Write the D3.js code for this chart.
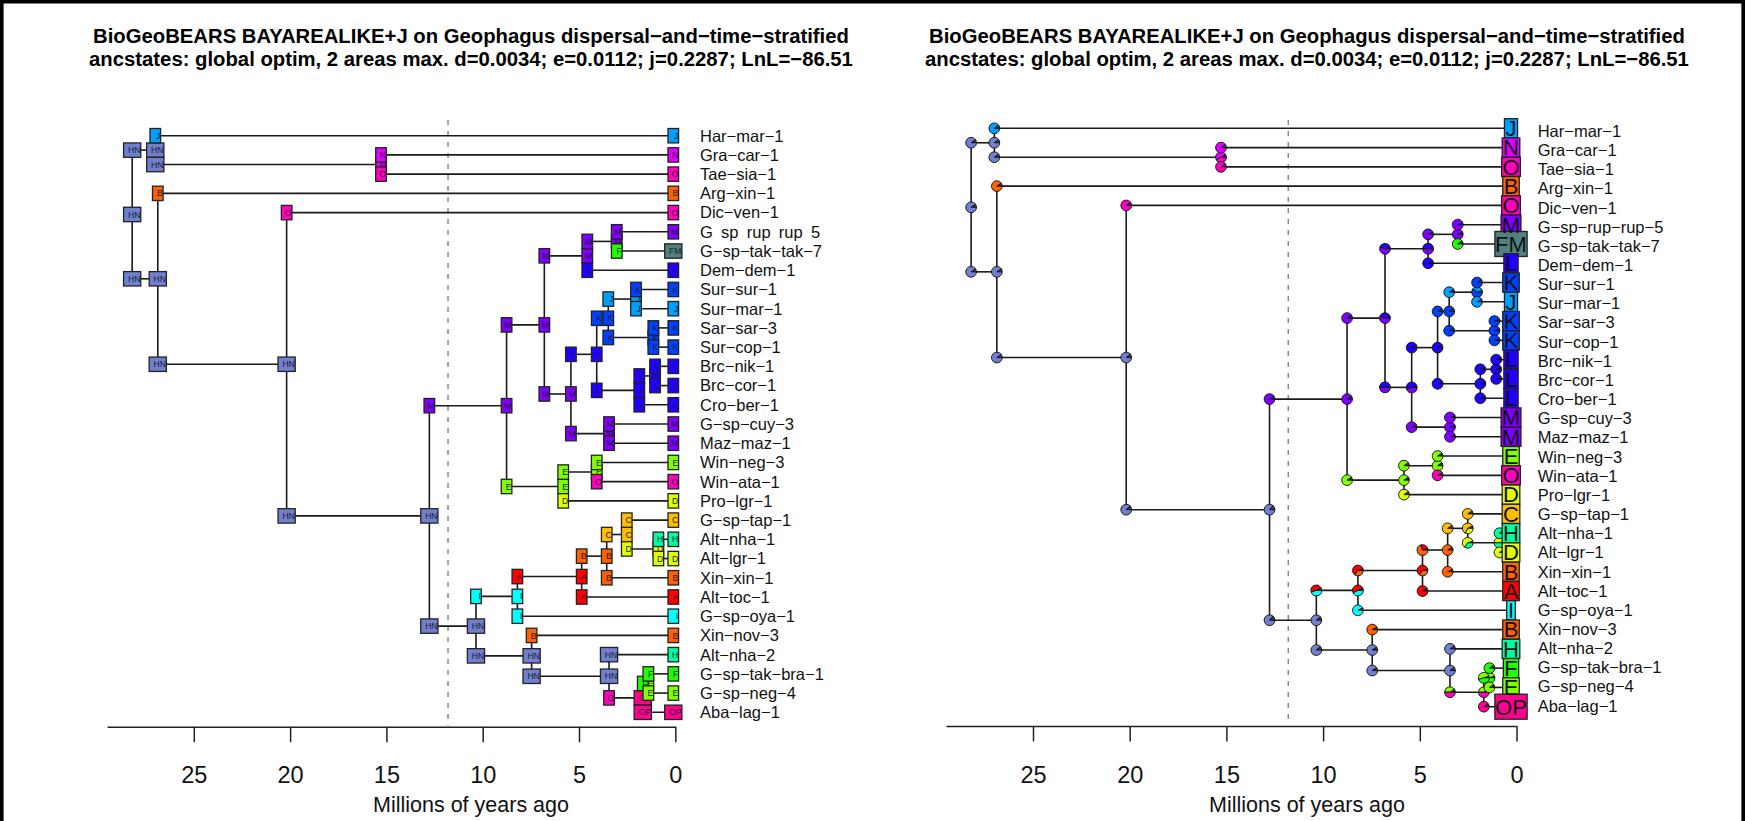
<!DOCTYPE html>
<html lang="en">
<head>
<meta charset="utf-8">
<title>BioGeoBEARS BAYAREALIKE+J on Geophagus</title>
<script src="https://cdnjs.cloudflare.com/ajax/libs/d3/7.8.5/d3.min.js"></script>
<style>
body { margin: 0; background: #fff; }
svg { display: block; font-family: "Liberation Sans", Arial, Helvetica, sans-serif; }
.branch { stroke: #1a1a1a; stroke-width: 1.6; fill: none; stroke-linecap: square; }
.strat { stroke: #8a8a8a; stroke-width: 1.5; stroke-dasharray: 5 6; }
.box { stroke: #222; stroke-width: 1.3; }
.pie path { stroke: #111; stroke-width: 0.9; }
.axis path, .axis line { stroke: #222; stroke-width: 1.5; }
.title { font-weight: bold; font-size: 20.3px; text-anchor: middle; }
</style>
</head>
<body>
<div id="chart"></div>
<script>

// tips, top to bottom
var tipNames = ["Har-mar-1","Gra-car-1","Tae-sia-1","Arg-xin-1","Dic-ven-1","G-sp-rup-rup-5","G-sp-tak-tak-7",
  "Dem-dem-1","Sur-sur-1","Sur-mar-1","Sar-sar-3","Sur-cop-1","Brc-nik-1","Brc-cor-1","Cro-ber-1","G-sp-cuy-3",
  "Maz-maz-1","Win-neg-3","Win-ata-1","Pro-lgr-1","G-sp-tap-1","Alt-nha-1","Alt-lgr-1","Xin-xin-1","Alt-toc-1",
  "G-sp-oya-1","Xin-nov-3","Alt-nha-2","G-sp-tak-bra-1","G-sp-neg-4","Aba-lag-1"];
var tipRanges = ["J","N","O","B","O","M","FM","L","K","J","K","K","L","L","L","M","M","E","O","D","C","H","D",
  "B","A","I","B","H","F","E","OP"];

// internal nodes (age in Ma, two children top/bottom)
var nodeNames = ["root","nA","nGT","nB","nD","nV","nT","nR","nQ","nP","nS","nSL","nKA","nJB","nKC","nLL","nLB",
  "nSM","nU","nUV","nW","nX","nY","nZ","nAA","nAB","nWB","nWC","nWD","nWE"];
var nodeAges = [28.2,27.0,15.28,26.87,20.18,12.77,8.76,6.8,4.57,3.04,5.42,4.08,3.48,2.04,1.14,1.87,1.05,
  3.44,5.82,4.08,10.35,8.2,4.86,3.56,2.52,0.88,7.46,3.44,1.69,1.4];
var nodeKids = [["nA","nB"],["Har-mar-1","nGT"],["Gra-car-1","Tae-sia-1"],["Arg-xin-1","nD"],["Dic-ven-1","nV"],
  ["nT","nW"],["nR","nU"],["nQ","nS"],["nP","Dem-dem-1"],["G-sp-rup-rup-5","G-sp-tak-tak-7"],["nSL","nSM"],
  ["nKA","nLL"],["nJB","nKC"],["Sur-sur-1","Sur-mar-1"],["Sar-sar-3","Sur-cop-1"],["nLB","Cro-ber-1"],
  ["Brc-nik-1","Brc-cor-1"],["G-sp-cuy-3","Maz-maz-1"],["nUV","Pro-lgr-1"],["Win-neg-3","Win-ata-1"],
  ["nX","nWB"],["nY","G-sp-oya-1"],["nZ","Alt-toc-1"],["nAA","Xin-xin-1"],["G-sp-tap-1","nAB"],
  ["Alt-nha-1","Alt-lgr-1"],["Xin-nov-3","nWC"],["Alt-nha-2","nWD"],["nWE","Aba-lag-1"],["G-sp-tak-bra-1","G-sp-neg-4"]];

// most probable ranges (left panel boxes)
var nodeRanges = ["HN","HN","N","HN","HN","HN","M","M","M","M","M","L","K","J","K","L","L","M","E","E","HN",
  "I","A","B","C","D","HN","HN","OP","E"];
var cornerRanges = [["HN","HN"],["J","HN"],["N","O"],["B","HN"],["O","HN"],["M","HN"],["M","E"],["M","M"],
  ["M","L"],["M","F"],["L","M"],["K","L"],["J","K"],["K","J"],["K","K"],["L","L"],["L","L"],["M","M"],["E","D"],
  ["E","O"],["I","HN"],["A","I"],["B","A"],["C","B"],["C","D"],["H","D"],["B","HN"],["HN","O"],["F","OP"],["F","E"]];

// range probabilities (right panel pies)
var nodePies = [[["HN",.9]],[["HN",.9]],[["N",.5],["O",.42]],[["HN",.9]],[["HN",.88]],[["HN",.86]],[["M",.9]],
  [["M",.55],["L",.4]],[["M",.5],["L",.45]],[["M",.92]],[["L",.5],["M",.45]],[["L",.92]],[["K",.9]],
  [["K",.6],["J",.35]],[["K",.95]],[["L",.95]],[["L",.95]],[["M",.95]],[["E",.9]],[["E",.9]],[["HN",.88]],
  [["A",.5],["I",.42]],[["A",.6],["B",.35]],[["B",.9]],[["C",.6],["D",.32]],[["H",.5],["D",.45]],[["HN",.9]],
  [["HN",.88]],[["O",.5],["E",.4]],[["E",.5],["F",.45]]];
var cornerPies = [
  [[["HN",.9]],[["HN",.9]]], [[["J",.9]],[["HN",.9]]], [[["N",.9]],[["O",.9]]], [[["B",.9]],[["HN",.9]]],
  [[["O",.9]],[["HN",.88]]], [[["M",.9]],[["HN",.86]]], [[["M",.9]],[["E",.9]]], [[["M",.55],["L",.4]],[["M",.5],["L",.45]]],
  [[["M",.92]],[["L",.92]]], [[["M",.95]],[["F",.9]]], [[["L",.92]],[["M",.92]]], [[["K",.9]],[["L",.95]]],
  [[["J",.9]],[["K",.92]]], [[["K",.92]],[["J",.92]]], [[["K",.95]],[["K",.95]]], [[["L",.95]],[["L",.95]]],
  [[["L",.95]],[["L",.95]]], [[["M",.95]],[["M",.95]]], [[["E",.9]],[["D",.9]]], [[["E",.9]],[["O",.92]]],
  [[["A",.45],["I",.45]],[["HN",.88]]], [[["A",.6],["B",.35]],[["I",.92]]], [[["B",.7],["A",.25]],[["A",.92]]],
  [[["C",.9]],[["B",.92]]], [[["C",.9]],[["D",.6],["H",.35]]], [[["H",.9]],[["D",.9]]], [[["B",.92]],[["HN",.9]]],
  [[["HN",.9]],[["O",.5],["E",.4]]], [[["E",.5],["F",.45]],[["OP",.9]]], [[["F",.9]],[["E",.9]]]];

var tickValues = [0, 5, 10, 15, 20, 25];
var axisSpan = [0, 29.5];
var stratTime = 11.8;
var titleLines = ["BioGeoBEARS BAYAREALIKE+J on Geophagus dispersal\u2212and\u2212time\u2212stratified",
  "ancstates: global optim, 2 areas max. d=0.0034; e=0.0112; j=0.2287; LnL=\u221286.51"];
var axisTitle = "Millions of years ago";

// ---- colours: rainbow over 16 areas, ranges mixed ----
var areaLetters = "ABCDEFGHIJKLMNOP".split("");
var hue = d3.scaleLinear().domain([0, areaLetters.length]).range([0, 360]);
function areaRGB(a) { return d3.hsl(hue(areaLetters.indexOf(a)), 1, 0.5).rgb(); }
function rangeColor(r) {
  var cs = r.split("").map(areaRGB);
  return d3.rgb(d3.mean(cs, c => c.r), d3.mean(cs, c => c.g), d3.mean(cs, c => c.b)).formatHex();
}
function rangeOrder(r) { return r.length * 100 + areaLetters.indexOf(r[0]) * 10 + (r.length > 1 ? areaLetters.indexOf(r[1]) : 0); }

var kidsOf = {}, ageOf = {}, tipIndex = {};
nodeNames.forEach((n, i) => { kidsOf[n] = nodeKids[i]; ageOf[n] = nodeAges[i]; });
tipNames.forEach((n, i) => { ageOf[n] = 0; tipIndex[n] = i; });

var svg = d3.select("#chart").append("svg").attr("width", 1745).attr("height", 821);

svg.append("path")
  .attr("d", "M1.8,830 V1.8 H1743.2 V830")
  .attr("fill", "none").attr("stroke", "#000").attr("stroke-width", 3.6);

function drawPanel(p) {
  var g = svg.append("g");
  var x = d3.scaleLinear().domain(axisSpan).range([p.x0, p.x0 - axisSpan[1] * p.pxPerMa]);
  var yT = d3.scaleLinear().domain([0, tipNames.length - 1]).range(p.treeY);
  var yL = d3.scaleLinear().domain([0, tipNames.length - 1]).range(p.labelY);
  var ys = {};
  function yOf(n) {
    if (n in tipIndex) return yT(tipIndex[n]);
    return d3.mean(kidsOf[n], yOf);
  }
  tipNames.concat(nodeNames).forEach(n => { ys[n] = yOf(n); });

  // titles
  titleLines.forEach((t, i) => {
    g.append("text").attr("class", "title").attr("x", p.titleX).attr("y", 42.5 + i * 23.5).text(t);
  });

  // stratification line
  g.append("line").attr("class", "strat")
    .attr("x1", x(stratTime)).attr("x2", x(stratTime)).attr("y1", 120).attr("y2", p.axisY - 1);

  // branches
  var br = g.append("g");
  nodeNames.forEach(n => {
    var k = kidsOf[n];
    br.append("line").attr("class", "branch").attr("x1", x(ageOf[n])).attr("x2", x(ageOf[n]))
      .attr("y1", ys[k[0]]).attr("y2", ys[k[1]]);
    k.forEach(c => {
      br.append("line").attr("class", "branch").attr("x1", x(ageOf[n])).attr("x2", x(ageOf[c]) + (c in tipIndex ? p.tipShift : 0))
        .attr("y1", ys[c]).attr("y2", ys[c]);
    });
  });

  var marks = [];
  nodeNames.forEach((n, i) => {
    marks.push({x: x(ageOf[n]), y: ys[n], r: nodeRanges[i], pie: nodePies[i]});
  });
  nodeNames.forEach((n, i) => {
    kidsOf[n].forEach((c, j) => {
      marks.push({x: x(ageOf[n]), y: ys[c], r: cornerRanges[i][j], pie: cornerPies[i][j]});
    });
  });

  if (p.mode === "box") {
    var bx = g.append("g");
    var all = marks.concat(tipNames.map((t, i) => ({x: x(0) + p.tipShift, y: ys[t], r: tipRanges[i]})));
    all.forEach(m => {
      var w = m.r.length > 1 ? 17.2 : 10.6, h = 14.4;
      bx.append("rect").attr("class", "box").attr("x", m.x - w / 2).attr("y", m.y - h / 2)
        .attr("width", w).attr("height", h).attr("fill", rangeColor(m.r));
      bx.append("text").attr("x", m.x + w / 2 - 0.4).attr("y", m.y + 3.1).attr("text-anchor", "end")
        .attr("font-size", 8.6).attr("fill", "#1c1c2a").text(m.r);
    });
  } else {
    var arc = d3.arc().innerRadius(0).outerRadius(5.4);
    var pg = g.append("g").attr("class", "pie");
    marks.forEach(m => {
      var sl = m.pie.slice().sort((a, b) => rangeOrder(a[0]) - rangeOrder(b[0]));
      var rest = 1 - d3.sum(sl, s => s[1]);
      var parts = [{c: "#3a3a44", v: rest}].concat(sl.map(s => ({c: rangeColor(s[0]), v: s[1]})));
      var th = 0;
      var pieG = pg.append("g").attr("transform", "translate(" + m.x + "," + m.y + ")");
      parts.forEach(pt => {
        var t0 = th, t1 = th + pt.v * 2 * Math.PI;
        th = t1;
        pieG.append("path").attr("fill", pt.c)
          .attr("d", arc({startAngle: Math.PI / 2 - t1, endAngle: Math.PI / 2 - t0}));
      });
    });
    // tip boxes with large letters
    var tb = g.append("g");
    tipNames.forEach((t, i) => {
      var r = tipRanges[i];
      var tx = tb.append("text").attr("x", x(0) + p.tipShift).attr("y", ys[t] + 7.8)
        .attr("text-anchor", "middle").attr("font-size", 22).attr("fill", "#111").text(r);
      var tw = tx.node().getComputedTextLength();
      var w = tw * 0.92 + 3, h = r.length > 1 ? 25 : 19.2;
      tb.insert("rect", "text").attr("class", "box").attr("stroke-width", 1.1)
        .attr("x", x(0) + p.tipShift - w / 2).attr("y", ys[t] - h / 2)
        .attr("width", w).attr("height", h).attr("fill", rangeColor(r));
    });
  }

  // tip labels
  g.append("g").selectAll("text").data(tipNames).join("text")
    .attr("x", p.labelX).attr("y", (d, i) => yL(i) + 5.9)
    .attr("font-size", 16.5).attr("fill", "#111")
    .text(d => p.labelText(d));

  // time axis
  var ax = g.append("g").attr("class", "axis").attr("transform", "translate(0," + p.axisY + ")")
    .call(d3.axisBottom(x).tickValues(tickValues).tickSize(15.5).tickSizeOuter(0).tickFormat(d3.format("d")));
  ax.selectAll("text").attr("y", 56.5).attr("dy", null).attr("font-size", 23.5).attr("fill", "#111")
    .attr("font-family", "'Liberation Sans', Arial, sans-serif");

  g.append("text").attr("x", p.titleX).attr("y", 812).attr("text-anchor", "middle")
    .attr("font-size", 21.5).attr("fill", "#111").text(axisTitle);
}

function dashName(d) { return d.replace(/-/g, "\u2212"); }

drawPanel({
  mode: "box", x0: 675.3, pxPerMa: 19.26, treeY: [135.7, 712.3], labelY: [135.7, 712.3],
  tipShift: -2, labelX: 700, titleX: 471, axisY: 726.7,
  labelText: d => d === "G-sp-rup-rup-5" ? d.replace(/-/g, "\u2002") : dashName(d)
});
drawPanel({
  mode: "pie", x0: 1516.5, pxPerMa: 19.34, treeY: [128.3, 706.7], labelY: [131, 705.7],
  tipShift: -5.5, labelX: 1537.7, titleX: 1307, axisY: 726,
  labelText: dashName
});

</script>
</body>
</html>
